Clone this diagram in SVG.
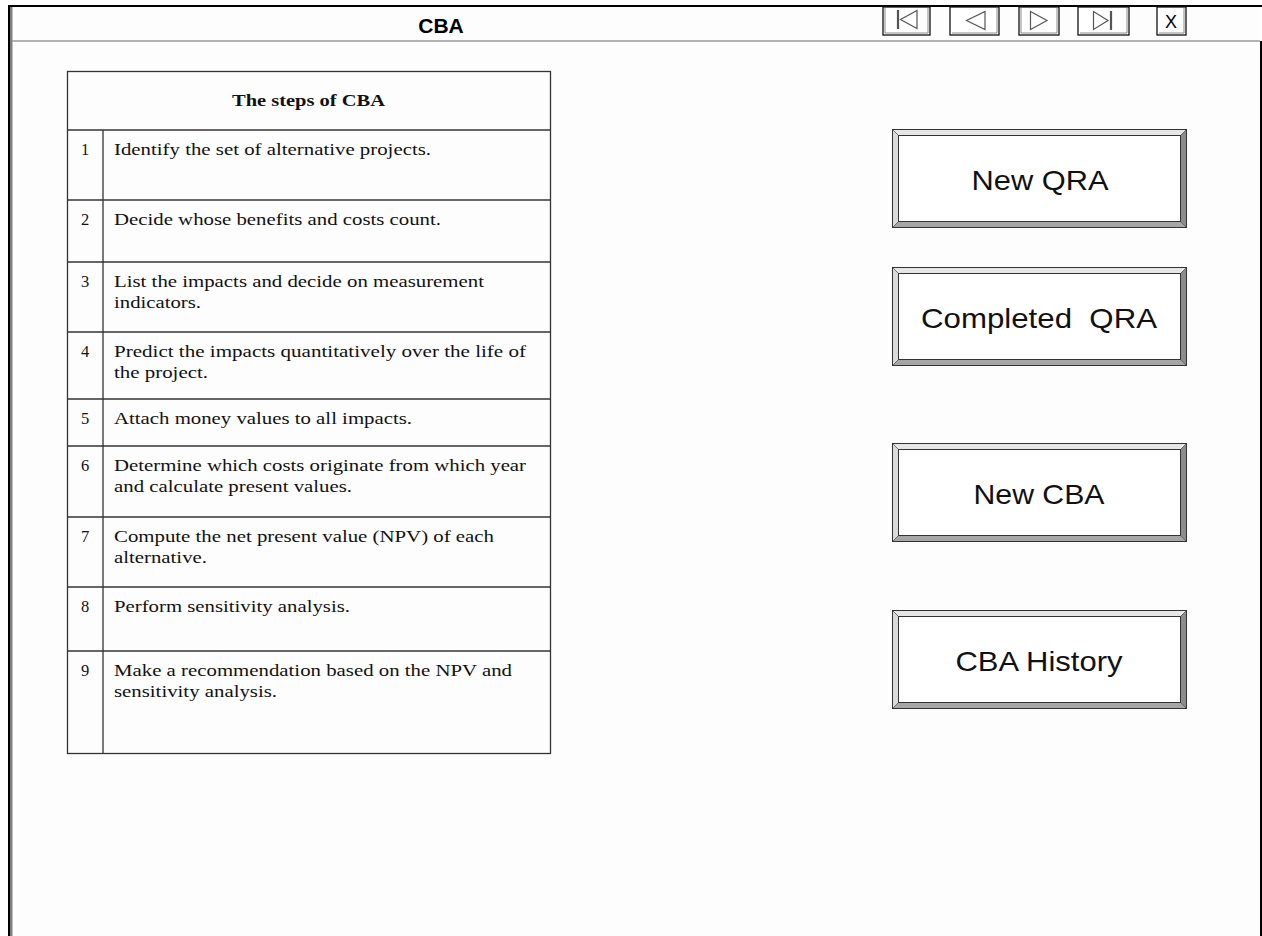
<svg xmlns="http://www.w3.org/2000/svg" width="1262" height="936" viewBox="0 0 1262 936">
<style>
.grid{stroke:#333;stroke-width:1.3;fill:none}
.cell{font-family:"Liberation Serif","Times New Roman",serif;font-size:16.5px;fill:#111}
.num{text-anchor:middle}
.head{font-weight:bold;text-anchor:middle}
.btxt{font-family:"Liberation Sans",Arial,sans-serif;font-size:28px;fill:#111;text-anchor:middle}
.title{font-family:"Liberation Sans",Arial,sans-serif;font-size:21px;font-weight:bold;fill:#000;text-anchor:middle}
.tb{fill:#fff;stroke:#111;stroke-width:1.3}
.tbin{fill:none;stroke:#8a8a8a;stroke-width:1}
.icon{fill:none;stroke:#555;stroke-width:1.2}
.x{font-family:"Liberation Sans",Arial,sans-serif;font-size:18px;fill:#000;text-anchor:middle}
</style>
<defs>
  <!-- raised 3D push button frame, 295 x 99 -->
  <g id="bevel">
    <polygon points="892,0 1187,0 1181,6 898,6" fill="#e6e6e6"/>
    <polygon points="892,0 898,6 898,93 892,99" fill="#dadada"/>
    <polygon points="1187,0 1187,99 1181,93 1181,6" fill="#8c8c8c"/>
    <polygon points="892,99 1187,99 1181,93 898,93" fill="#a6a6a6"/>
    <g stroke="#555" stroke-width="0.8">
      <line x1="892" y1="0" x2="898" y2="6"/>
      <line x1="1187" y1="0" x2="1181" y2="6"/>
      <line x1="892" y1="99" x2="898" y2="93"/>
      <line x1="1187" y1="99" x2="1181" y2="93"/>
    </g>
    <rect x="898.5" y="6.5" width="282" height="86" fill="#fff" stroke="#333" stroke-width="1"/>
    <rect x="892.5" y="0.5" width="294" height="98" fill="none" stroke="#333" stroke-width="1"/>
  </g>
</defs>

<rect width="1262" height="936" fill="#fff"/>

<!-- window frame and title bar -->
<g id="frame">
  <rect x="10" y="7" width="1251" height="929" fill="#fdfdfd"/>
  <line x1="8" y1="6" x2="1262" y2="6" stroke="#000" stroke-width="2"/>
  <line x1="9" y1="5" x2="9" y2="936" stroke="#000" stroke-width="2"/>
  <rect x="10" y="7" width="2.5" height="929" fill="#808080"/>
  <line x1="12" y1="41" x2="1260" y2="41" stroke="#9a9a9a" stroke-width="1.5"/>
  <line x1="1261" y1="41" x2="1261" y2="936" stroke="#000" stroke-width="2"/>
  <text class="title" x="441" y="33">CBA</text>
</g>

<!-- navigation toolbar -->
<g id="toolbar">
  <g id="nav-first">
    <rect class="tb" x="883" y="7" width="47" height="28"/>
    <polyline class="tbin" points="885,8 885,33 928,33 928,8"/>
    <line x1="898" y1="10" x2="898" y2="29" stroke="#555" stroke-width="2.2"/>
    <polygon class="icon" points="917,10.5 917,28.5 900.5,19.5"/>
  </g>
  <g id="nav-prev">
    <rect class="tb" x="950" y="7" width="49" height="28"/>
    <polyline class="tbin" points="952,33 997,33 997,8"/>
    <polygon class="icon" points="985,11.5 985,29.5 966.5,20.5"/>
  </g>
  <g id="nav-next">
    <rect class="tb" x="1019" y="7" width="40" height="28"/>
    <polyline class="tbin" points="1021,8 1021,33 1057,33 1057,8"/>
    <polygon class="icon" points="1030.5,11.5 1030.5,29.5 1047,20.5"/>
  </g>
  <g id="nav-last">
    <rect class="tb" x="1078" y="7" width="51" height="28"/>
    <polyline class="tbin" points="1080,33 1127,33 1127,8"/>
    <polygon class="icon" points="1093.5,11.5 1093.5,29.5 1108,20.5"/>
    <line x1="1111" y1="11" x2="1111" y2="30" stroke="#555" stroke-width="2.2"/>
  </g>
  <g id="nav-close">
    <rect class="tb" x="1157" y="7" width="29" height="28"/>
    <polyline class="tbin" points="1159,33 1184,33 1184,8"/>
    <text class="x" x="1171" y="28">X</text>
  </g>
</g>

<!-- steps table -->
<g id="steps-table">
  <rect class="grid" x="67.5" y="71.5" width="483" height="682"/>
  <g class="grid">
    <line x1="67" y1="130" x2="551" y2="130"/>
    <line x1="67" y1="200" x2="551" y2="200"/>
    <line x1="67" y1="262" x2="551" y2="262"/>
    <line x1="67" y1="332" x2="551" y2="332"/>
    <line x1="67" y1="399" x2="551" y2="399"/>
    <line x1="67" y1="446" x2="551" y2="446"/>
    <line x1="67" y1="517" x2="551" y2="517"/>
    <line x1="67" y1="587" x2="551" y2="587"/>
    <line x1="67" y1="651" x2="551" y2="651"/>
    <line x1="103" y1="130" x2="103" y2="754"/>
  </g>
  <text class="cell head" x="308.5" y="106" textLength="153" lengthAdjust="spacingAndGlyphs">The steps of CBA</text>

  <g id="step-1" class="cell">
    <text class="num" x="85" y="155">1</text>
    <text x="114" y="155" textLength="317" lengthAdjust="spacingAndGlyphs">Identify the set of alternative projects.</text>
  </g>
  <g id="step-2" class="cell">
    <text class="num" x="85" y="225">2</text>
    <text x="114" y="225" textLength="327" lengthAdjust="spacingAndGlyphs">Decide whose benefits and costs count.</text>
  </g>
  <g id="step-3" class="cell">
    <text class="num" x="85" y="287">3</text>
    <text x="114" y="287" textLength="370" lengthAdjust="spacingAndGlyphs">List the impacts and decide on measurement</text>
    <text x="114" y="308" textLength="87" lengthAdjust="spacingAndGlyphs">indicators.</text>
  </g>
  <g id="step-4" class="cell">
    <text class="num" x="85" y="357">4</text>
    <text x="114" y="357" textLength="412" lengthAdjust="spacingAndGlyphs">Predict the impacts quantitatively over the life of</text>
    <text x="114" y="378" textLength="94" lengthAdjust="spacingAndGlyphs">the project.</text>
  </g>
  <g id="step-5" class="cell">
    <text class="num" x="85" y="424">5</text>
    <text x="114" y="424" textLength="298" lengthAdjust="spacingAndGlyphs">Attach money values to all impacts.</text>
  </g>
  <g id="step-6" class="cell">
    <text class="num" x="85" y="471">6</text>
    <text x="114" y="471" textLength="412" lengthAdjust="spacingAndGlyphs">Determine which costs originate from which year</text>
    <text x="114" y="492" textLength="238" lengthAdjust="spacingAndGlyphs">and calculate present values.</text>
  </g>
  <g id="step-7" class="cell">
    <text class="num" x="85" y="542">7</text>
    <text x="114" y="542" textLength="380" lengthAdjust="spacingAndGlyphs">Compute the net present value (NPV) of each</text>
    <text x="114" y="563" textLength="93" lengthAdjust="spacingAndGlyphs">alternative.</text>
  </g>
  <g id="step-8" class="cell">
    <text class="num" x="85" y="612">8</text>
    <text x="114" y="612" textLength="236" lengthAdjust="spacingAndGlyphs">Perform sensitivity analysis.</text>
  </g>
  <g id="step-9" class="cell">
    <text class="num" x="85" y="676">9</text>
    <text x="114" y="676" textLength="398" lengthAdjust="spacingAndGlyphs">Make a recommendation based on the NPV and</text>
    <text x="114" y="697" textLength="163" lengthAdjust="spacingAndGlyphs">sensitivity analysis.</text>
  </g>
</g>

<!-- action buttons -->
<g id="btn-new-qra">
  <use href="#bevel" y="129"/>
  <text class="btxt" x="1040" y="190" textLength="137" lengthAdjust="spacingAndGlyphs">New QRA</text>
</g>
<g id="btn-completed-qra">
  <use href="#bevel" y="267"/>
  <text class="btxt" x="1039" y="328" textLength="236" lengthAdjust="spacingAndGlyphs" xml:space="preserve">Completed  QRA</text>
</g>
<g id="btn-new-cba">
  <use href="#bevel" y="443"/>
  <text class="btxt" x="1039" y="504" textLength="131" lengthAdjust="spacingAndGlyphs">New CBA</text>
</g>
<g id="btn-cba-history">
  <use href="#bevel" y="610"/>
  <text class="btxt" x="1039" y="671" textLength="167" lengthAdjust="spacingAndGlyphs">CBA History</text>
</g>

<g id="connectors"/>
</svg>
